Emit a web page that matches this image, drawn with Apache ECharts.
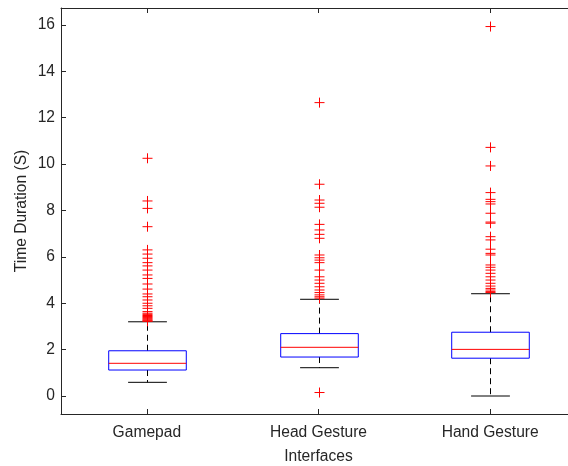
<!DOCTYPE html>
<html>
<head>
<meta charset="utf-8">
<script src="https://cdn.jsdelivr.net/npm/echarts@6/dist/echarts.min.js"></script>
<style>html,body{margin:0;padding:0;background:#fff}#chart{width:568px;height:466px}</style>
</head>
<body>
<div id="chart"></div>
<script>
var categories = ['Gamepad', 'Head Gesture', 'Hand Gesture'];
var lowerWhisker = [0.59, 1.22, 0.00];
var q1 = [1.12, 1.68, 1.63];
var median = [1.41, 2.10, 2.01];
var q3 = [1.95, 2.69, 2.75];
var upperWhisker = [3.20, 4.17, 4.41];
var gamepadOutliers = [10.25, 8.41, 8.09, 7.30, 6.30, 6.12, 5.94, 5.75, 5.61, 5.43, 5.22, 5.07, 4.83, 4.61, 4.40, 4.28, 4.14, 4.00, 3.89, 3.78, 3.64, 3.57, 3.52, 3.47, 3.43, 3.39, 3.35, 3.31, 3.27, 3.24, 3.22];
var headOutliers = [12.65, 9.13, 8.45, 8.31, 8.14, 7.40, 7.16, 6.97, 6.80, 6.08, 5.96, 5.86, 5.75, 5.43, 5.14, 5.00, 4.86, 4.71, 4.57, 4.46, 4.36, 4.28, 4.22, 0.15];
var handOutliers = [15.93, 10.72, 9.92, 8.77, 8.48, 8.38, 8.28, 7.88, 7.50, 7.45, 6.87, 6.73, 6.33, 6.15, 6.08, 5.65, 5.55, 5.43, 5.29, 5.14, 5.00, 4.86, 4.74, 4.64, 4.57, 4.50, 4.46];
var yTicks = [0, 2, 4, 6, 8, 10, 12, 14, 16];
var yMin = -0.776, yMax = 16.73;

var boxData = categories.map(function (c, i) {
  return [i, lowerWhisker[i], q1[i], median[i], q3[i], upperWhisker[i]];
});
var outlierData = [];
[gamepadOutliers, headOutliers, handOutliers].forEach(function (arr, i) {
  arr.forEach(function (v) { outlierData.push([i, v]); });
});

var fontFam = '"Liberation Sans", Arial, Helvetica, sans-serif';
var axisColor = '#262626';

var chart = echarts.init(document.getElementById('chart'), null, {renderer: 'canvas'});
chart.setOption({
  animation: false,
  backgroundColor: '#fff',
  grid: {left: 61, top: 8, width: 515, bottom: 52, containLabel: false, outerBoundsMode: 'none'},
  xAxis: [{
    type: 'category', data: categories, position: 'bottom',
    name: 'Interfaces', nameLocation: 'middle', nameGap: 35, nameMoveOverlap: false,
    nameTextStyle: {fontFamily: fontFam, fontSize: 15.6, color: axisColor},
    axisLine: {show: true, onZero: false, lineStyle: {color: axisColor, width: 1}},
    axisTick: {show: true, inside: true, length: 5, alignWithLabel: true, lineStyle: {color: axisColor}},
    axisLabel: {fontFamily: fontFam, fontSize: 15.6, color: axisColor, margin: 11},
    splitLine: {show: false}
  }, {
    type: 'category', data: categories, position: 'top',
    axisLine: {show: true, onZero: false, lineStyle: {color: axisColor, width: 1}},
    axisTick: {show: true, inside: true, length: 5, alignWithLabel: true, lineStyle: {color: axisColor}},
    axisLabel: {show: false},
    splitLine: {show: false}
  }],
  yAxis: {
    type: 'value', min: yMin, max: yMax,
    name: 'Time Duration (S)', nameLocation: 'middle', nameGap: 31, nameMoveOverlap: false,
    nameTextStyle: {fontFamily: fontFam, fontSize: 15.6, color: axisColor},
    axisLine: {show: true, onZero: false, lineStyle: {color: axisColor, width: 1}},
    axisTick: {show: true, inside: true, length: 5, customValues: yTicks, lineStyle: {color: axisColor}},
    axisLabel: {fontFamily: fontFam, fontSize: 15.6, color: axisColor, margin: 6, customValues: yTicks},
    splitLine: {show: false}
  },
  series: [{
    type: 'custom',
    data: boxData,
    encode: {x: 0, y: [1, 2, 3, 4, 5]},
    renderItem: function (params, api) {
      var i = api.value(0);
      var bandW = api.size([1, 0])[0];
      var bw = bandW * 0.452;
      var cw = bw / 2;
      var pLw = api.coord([i, api.value(1)]);
      var pQ1 = api.coord([i, api.value(2)]);
      var pMed = api.coord([i, api.value(3)]);
      var pQ3 = api.coord([i, api.value(4)]);
      var pUw = api.coord([i, api.value(5)]);
      var x = Math.round(pMed[0]) + 0.5;
      var dash = {stroke: '#000', lineWidth: 1, lineDash: [6, 4]};
      var solid = {stroke: '#000', lineWidth: 1};
      return {
        type: 'group',
        children: [
          {type: 'line', shape: {x1: x, y1: pQ3[1], x2: x, y2: pUw[1]}, style: dash, z2: 1},
          {type: 'line', shape: {x1: x, y1: pQ1[1], x2: x, y2: pLw[1]}, style: dash, z2: 1},
          {type: 'line', shape: {x1: x - cw / 2, y1: pUw[1], x2: x + cw / 2, y2: pUw[1]}, style: solid, z2: 1},
          {type: 'line', shape: {x1: x - cw / 2, y1: pLw[1], x2: x + cw / 2, y2: pLw[1]}, style: solid, z2: 1},
          {type: 'rect', shape: {x: x - bw / 2, y: pQ3[1], width: bw, height: pQ1[1] - pQ3[1]}, style: {fill: 'none', stroke: '#0000ff', lineWidth: 1}, z2: 2},
          {type: 'line', shape: {x1: x - bw / 2, y1: pMed[1], x2: x + bw / 2, y2: pMed[1]}, style: {stroke: '#ff0000', lineWidth: 1}, z2: 3}
        ]
      };
    }
  }, {
    type: 'custom',
    data: outlierData,
    encode: {x: 0, y: 1},
    renderItem: function (params, api) {
      var p = api.coord([api.value(0), api.value(1)]);
      var x = Math.round(p[0]) + 0.5, y = p[1], h = 5;
      var st = {stroke: '#ff0000', lineWidth: 1};
      return {
        type: 'group',
        children: [
          {type: 'line', shape: {x1: x - h, y1: y, x2: x + h, y2: y}, style: st},
          {type: 'line', shape: {x1: x, y1: y - h, x2: x, y2: y + h}, style: st}
        ]
      };
    },
    z: 5
  }]
});
</script>
</body>
</html>
